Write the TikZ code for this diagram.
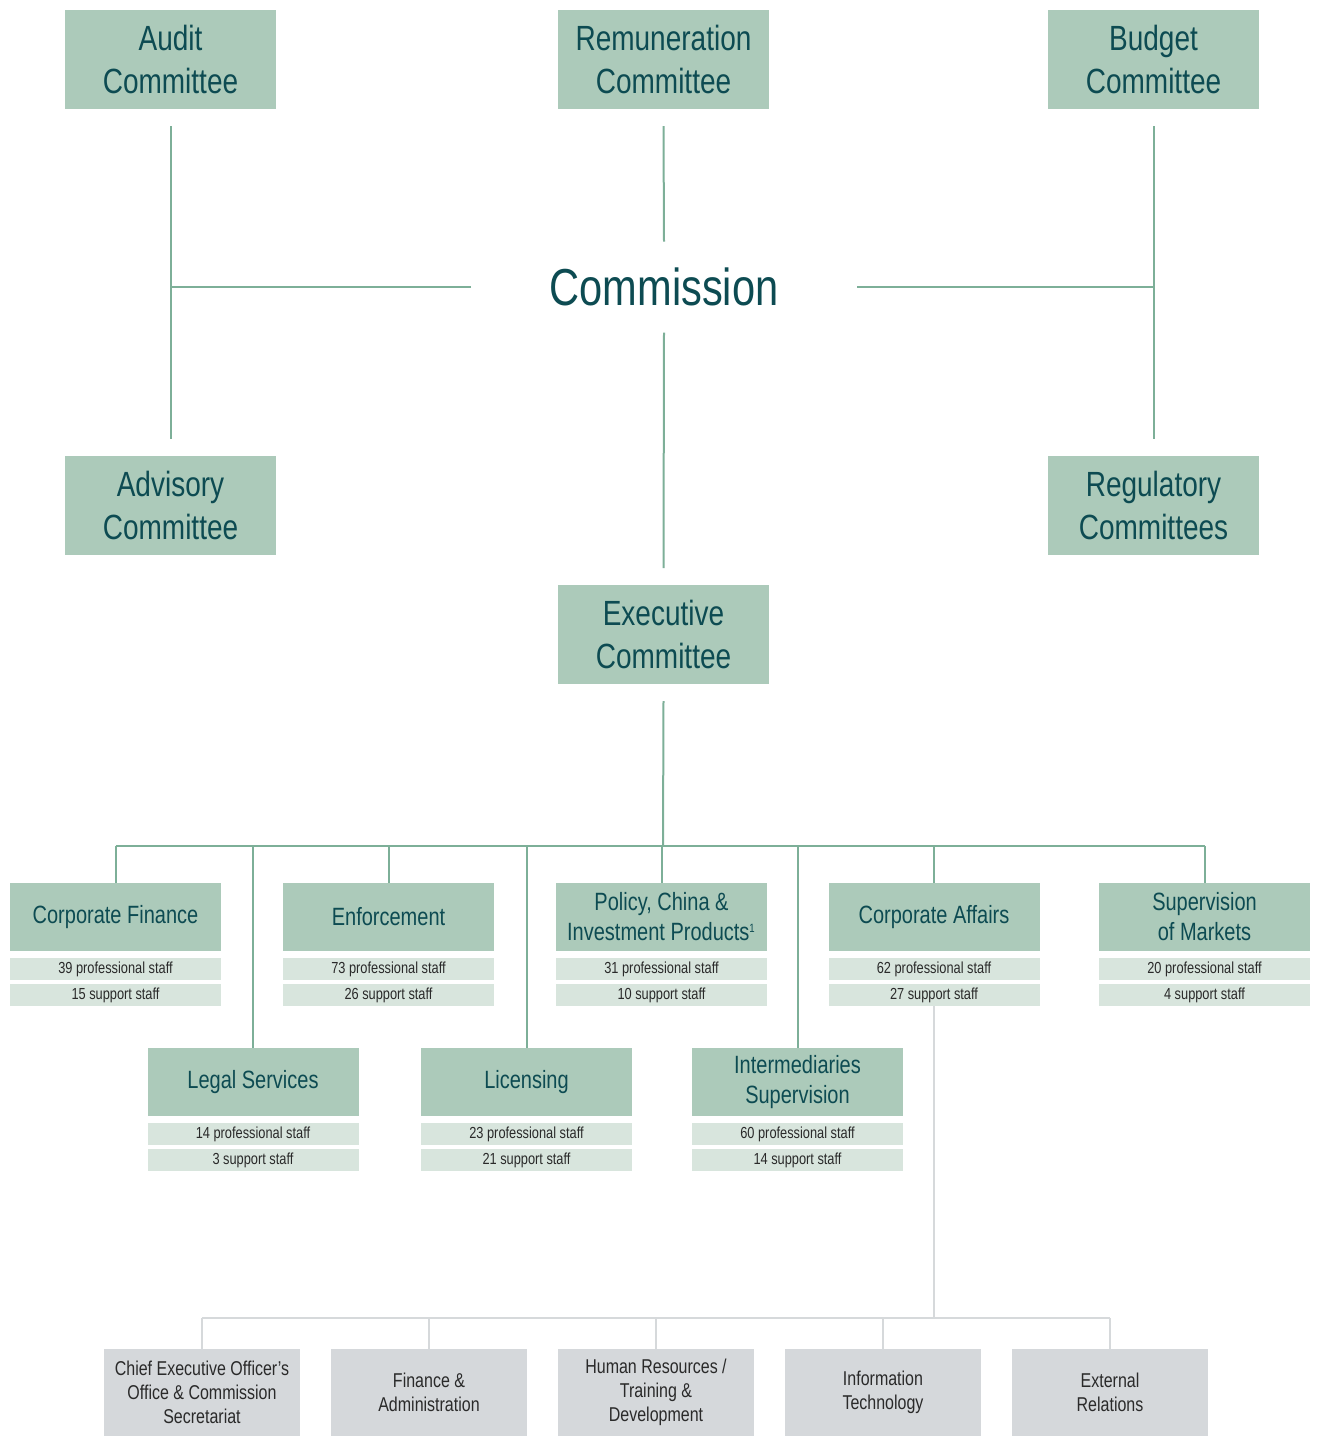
\documentclass[tikz,border=0pt]{standalone}
\usepackage{fontspec}
\setmainfont{Liberation Sans}[FakeStretch=0.8]
\usetikzlibrary{positioning}

\definecolor{boxgreen}{HTML}{ACCABA}
\definecolor{rowgreen}{HTML}{D8E5DD}
\definecolor{linegreen}{HTML}{7DAF98}
\definecolor{textteal}{HTML}{0D4B52}
\definecolor{boxgray}{HTML}{D5D8DB}
\definecolor{linegray}{HTML}{D6D9DB}
\definecolor{textdark}{HTML}{2A2A2A}

\begin{document}
\begin{tikzpicture}[x=0.5pt, y=-0.5pt,
        Committee/.style={rectangle, fill=boxgreen, text=textteal, minimum width=105.5pt, minimum height=49.5pt, align=center, inner sep=0pt, outer sep=0pt, font=\fontsize{17.5}{21.5}\selectfont},
        Dept/.style={rectangle, fill=boxgreen, text=textteal, minimum width=105.5pt, minimum height=34pt, align=center, inner sep=0pt, outer sep=0pt, font=\fontsize{12.5}{15}\selectfont},
        Staff/.style={rectangle, fill=rowgreen, text=textdark, minimum width=105.5pt, minimum height=11pt, inner sep=0pt, outer sep=0pt, font=\fontsize{8}{9}\selectfont},
        Unit/.style={rectangle, fill=boxgray, text=textdark, minimum width=98pt, minimum height=43.5pt, align=center, inner sep=0pt, outer sep=0pt, font=\fontsize{10}{12}\selectfont},
        Link/.style={draw=linegreen, line width=1pt},
        GrayLink/.style={draw=linegray, line width=1pt}
    ]

    \useasboundingbox (0,0) rectangle (1317,1436);

    % Draw the Commission and its committees
    \node (Commission) [text=textteal, font=\fontsize{26}{30}\selectfont, minimum width=193pt, minimum height=45.5pt, inner sep=0pt, outer sep=0pt] at (664,287) {Commission};
    \node (Audit) [Committee] at (170.5,59.5) {Audit\\Committee};
    \node (Remun) [Committee] at (663.5,59.5) {Remuneration\\Committee};
    \node (Budget) [Committee] at (1153.5,59.5) {Budget\\Committee};
    \node (Advisory) [Committee] at (170.5,505.5) {Advisory\\Committee};
    \node (Regulatory) [Committee] at (1153.5,505.5) {Regulatory\\Committees};
    \node (Exec) [Committee] at (663.5,634.5) {Executive\\Committee};

    % Connections round the Commission
    \draw[Link] ([yshift=-8.5pt]Audit.south) -- ([yshift=8.5pt]Advisory.north);
    \draw[Link] ([yshift=-8.5pt]Budget.south) -- ([yshift=8.5pt]Regulatory.north);
    \draw[Link] (Commission.west) -- (Audit.south |- Commission.west);
    \draw[Link] (Commission.east) -- (Budget.south |- Commission.east);
    \draw[Link] ([yshift=-8.5pt]Remun.south) -- (Commission.north);
    \draw[Link] (Commission.south) -- ([yshift=8.5pt]Exec.north);

    % Divisions, top row
    \node (CF) [Dept] at (115.5,917) {Corporate Finance};
    \node (Enf) [Dept] at (388.5,917) {Enforcement};
    \node (Policy) [Dept] at (661.5,917) {Policy, China \&\\Investment Products\textsuperscript{\fontsize{6}{6}\selectfont 1}};
    \node (CA) [Dept] at (934,917) {Corporate Affairs};
    \node (SM) [Dept] at (1204.5,917) {Supervision\\of Markets};

    % Divisions, second row
    \node (Legal) [Dept] at (253,1082) {Legal Services};
    \node (Lic) [Dept] at (526.5,1082) {Licensing};
    \node (Inter) [Dept] at (797.5,1082) {Intermediaries\\Supervision};

    % Staff numbers under each division
    \node (CF_P) [Staff, below=3.5pt of CF] {39 professional staff};
    \node (CF_S) [Staff, below=2pt of CF_P] {15 support staff};
    \node (Enf_P) [Staff, below=3.5pt of Enf] {73 professional staff};
    \node (Enf_S) [Staff, below=2pt of Enf_P] {26 support staff};
    \node (Policy_P) [Staff, below=3.5pt of Policy] {31 professional staff};
    \node (Policy_S) [Staff, below=2pt of Policy_P] {10 support staff};
    \node (CA_P) [Staff, below=3.5pt of CA] {62 professional staff};
    \node (CA_S) [Staff, below=2pt of CA_P] {27 support staff};
    \node (SM_P) [Staff, below=3.5pt of SM] {20 professional staff};
    \node (SM_S) [Staff, below=2pt of SM_P] {4 support staff};
    \node (Legal_P) [Staff, below=3.5pt of Legal] {14 professional staff};
    \node (Legal_S) [Staff, below=2pt of Legal_P] {3 support staff};
    \node (Lic_P) [Staff, below=3.5pt of Lic] {23 professional staff};
    \node (Lic_S) [Staff, below=2pt of Lic_P] {21 support staff};
    \node (Inter_P) [Staff, below=3.5pt of Inter] {60 professional staff};
    \node (Inter_S) [Staff, below=2pt of Inter_P] {14 support staff};

    % Executive Committee to the divisions
    \coordinate (Bus) at (663,846);
    \draw[Link] ([yshift=-8.5pt]Exec.south) -- (Bus);
    \draw[Link] (CF.north |- Bus) -- (SM.north |- Bus);
    \foreach \d in {CF, Enf, Policy, CA, SM, Legal, Lic, Inter}
        \draw[Link] (\d.north |- Bus) -- (\d.north);

    % Units of Corporate Affairs
    \node (CEO) [Unit] at (202,1392.5) {Chief Executive Officer's\\Office \& Commission\\Secretariat};
    \node (FA) [Unit] at (429,1392.5) {Finance \&\\Administration};
    \node (HR) [Unit] at (656,1392.5) {Human Resources /\\Training \&\\Development};
    \node (IT) [Unit] at (883,1392.5) {Information\\Technology};
    \node (ER) [Unit] at (1110,1392.5) {External\\Relations};

    \coordinate (GrayBus) at (934,1318);
    \draw[GrayLink] (CA_S.south) -- (GrayBus);
    \draw[GrayLink] (CEO.north |- GrayBus) -- (ER.north |- GrayBus);
    \foreach \u in {CEO, FA, HR, IT, ER}
        \draw[GrayLink] (\u.north |- GrayBus) -- (\u.north);

\end{tikzpicture}
\end{document}
